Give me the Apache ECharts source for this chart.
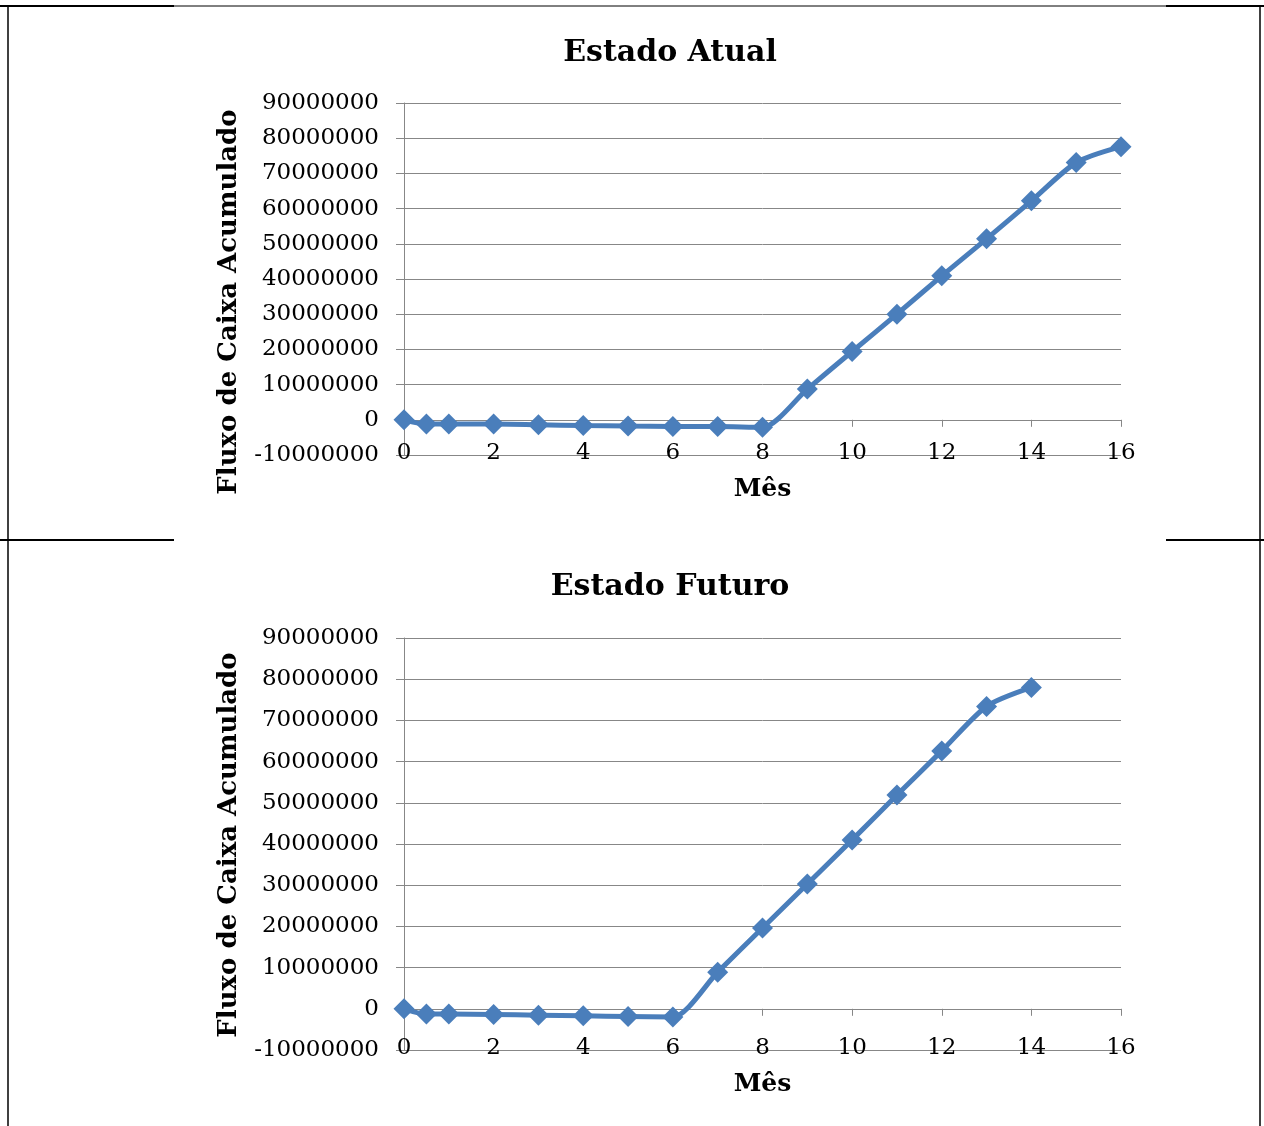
<!DOCTYPE html>
<html>
<head>
<meta charset="utf-8">
<script src="https://cdn.jsdelivr.net/npm/echarts@6/dist/echarts.min.js"></script>
<style>
  html, body { margin: 0; padding: 0; background: #fff; }
  #main { width: 1264px; height: 1126px; }
</style>
</head>
<body>
<div id="main"></div>
<script>
// Estado Atual
var mesesAtual = [0, 0.5, 1, 2, 3, 4, 5, 6, 7, 8, 9, 10, 11, 12, 13, 14, 15, 16];
var fluxoAtual = [0, -1220000, -1220000, -1220000, -1420000, -1620000, -1790000, -1900000, -1900000,
                  -2150000, 8720000, 19400000, 30000000, 40900000, 51400000, 62200000, 73100000, 77600000];
// Estado Futuro
var mesesFuturo = [0, 0.5, 1, 2, 3, 4, 5, 6, 7, 8, 9, 10, 11, 12, 13, 14];
var fluxoFuturo = [0, -1290000, -1290000, -1380000, -1540000, -1700000, -1860000, -2000000,
                   8900000, 19600000, 30300000, 41000000, 51900000, 62600000, 73400000, 78000000];

var titulos = ['Estado Atual', 'Estado Futuro'];
var nomeY = 'Fluxo de Caixa Acumulado';
var nomeX = 'Mês';
var yMin = -10000000, yMax = 90000000, yStep = 10000000;
var xMin = 0, xMax = 16, xStep = 2;

var fonte = '"DejaVu Serif", serif';
var cinza = '#878787';
var azul = '#4a7ebb';

function pares(xs, ys) {
    var out = [];
    for (var i = 0; i < xs.length; i++) out.push([xs[i], ys[i]]);
    return out;
}

function eixoX(idx) {
    return {
        type: 'value', gridIndex: idx, min: xMin, max: xMax, interval: xStep,
        name: nomeX, nameLocation: 'middle', nameGap: 34,
        nameTextStyle: { fontFamily: fonte, fontSize: 25, fontWeight: 'bold', color: '#000', verticalAlign: 'middle' },
        axisLine: { show: true, onZero: true, lineStyle: { color: cinza, width: 1 } },
        axisTick: { show: true, length: 7, lineStyle: { color: cinza } },
        axisLabel: { fontFamily: fonte, fontSize: 23, color: '#000', margin: -13 },
        splitLine: { show: false }
    };
}

function eixoY(idx) {
    return {
        type: 'value', gridIndex: idx, min: yMin, max: yMax, interval: yStep,
        axisLine: { show: true, lineStyle: { color: cinza, width: 1 } },
        axisTick: { show: true, length: 8, lineStyle: { color: cinza } },
        axisLabel: { fontFamily: fonte, fontSize: 23, color: '#000', margin: 25,
                     formatter: function (v) { return String(v); } },
        splitLine: { show: true, lineStyle: { color: cinza, width: 1 } }
    };
}

function serie(idx, xs, ys) {
    return {
        type: 'line', xAxisIndex: idx, yAxisIndex: idx,
        data: pares(xs, ys),
        smooth: 0.25,
        symbol: 'diamond', symbolSize: 21,
        lineStyle: { color: azul, width: 5 },
        itemStyle: { color: azul },
        animation: false
    };
}

function linha(x1, y1, x2, y2, w) {
    return { type: 'line', shape: { x1: x1, y1: y1, x2: x2, y2: y2 }, style: { stroke: '#000', lineWidth: w } };
}

function textoY(x, y) {
    return {
        type: 'text', x: x, y: y, rotation: Math.PI / 2,
        style: { text: nomeY, font: 'bold 26px ' + fonte, fill: '#000', align: 'center', verticalAlign: 'middle' }
    };
}

var chart = echarts.init(document.getElementById('main'));
chart.setOption({
    animation: false,
    title: [
        { text: titulos[0], left: 665, top: 33, textAlign: 'center',
          textStyle: { fontFamily: fonte, fontSize: 30, fontWeight: 'bold', color: '#000' } },
        { text: titulos[1], left: 665, top: 567, textAlign: 'center',
          textStyle: { fontFamily: fonte, fontSize: 30, fontWeight: 'bold', color: '#000' } }
    ],
    grid: [
        { left: 404, top: 103, width: 717, height: 352 },
        { left: 404, top: 638, width: 717, height: 412 }
    ],
    xAxis: [eixoX(0), eixoX(1)],
    yAxis: [eixoY(0), eixoY(1)],
    series: [serie(0, mesesAtual, fluxoAtual), serie(1, mesesFuturo, fluxoFuturo)],
    graphic: [
        linha(0, 6, 174, 6, 2), linha(174, 6, 1166, 6, 1), linha(1166, 6, 1264, 6, 2),
        linha(8, 6, 8, 1126, 1.5), linha(1260, 6, 1260, 1126, 1.5),
        linha(0, 540, 174, 540, 2), linha(1166, 540, 1264, 540, 2),
        textoY(229, 302), textoY(229, 845)
    ]
});
</script>
</body>
</html>
